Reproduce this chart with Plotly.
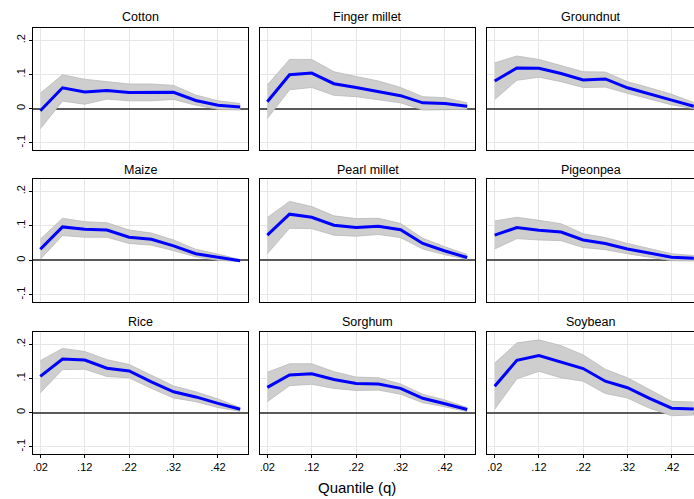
import plotly.graph_objects as go

W, H = 694, 499

quantiles = [0.02, 0.07, 0.12, 0.17, 0.22, 0.27, 0.32, 0.37, 0.42, 0.47]
crops = ["Cotton", "Finger millet", "Groundnut",
         "Maize", "Pearl millet", "Pigeonpea",
         "Rice", "Sorghum", "Soybean"]

cotton_est = [-0.006, 0.061, 0.049, 0.053, 0.047, 0.047, 0.048, 0.024, 0.010, 0.005]
cotton_hi = [0.045, 0.099, 0.086, 0.079, 0.072, 0.072, 0.068, 0.040, 0.023, 0.015]
cotton_lo = [-0.059, 0.022, 0.013, 0.028, 0.023, 0.023, 0.027, 0.010, -0.002, -0.004]

finger_est = [0.020, 0.099, 0.104, 0.073, 0.062, 0.051, 0.038, 0.017, 0.015, 0.007]
finger_hi = [0.069, 0.144, 0.144, 0.108, 0.094, 0.081, 0.062, 0.035, 0.032, 0.017]
finger_lo = [-0.029, 0.055, 0.062, 0.039, 0.035, 0.025, 0.017, -0.004, -0.004, -0.002]

groundnut_est = [0.081, 0.119, 0.118, 0.103, 0.084, 0.087, 0.061, 0.044, 0.025, 0.007]
groundnut_hi = [0.134, 0.154, 0.144, 0.127, 0.108, 0.107, 0.079, 0.061, 0.042, 0.018]
groundnut_lo = [0.027, 0.083, 0.092, 0.079, 0.062, 0.063, 0.045, 0.028, 0.011, 0.000]

maize_est = [0.032, 0.097, 0.090, 0.088, 0.067, 0.061, 0.042, 0.019, 0.009, -0.001]
maize_hi = [0.061, 0.122, 0.112, 0.109, 0.088, 0.079, 0.059, 0.032, 0.018, 0.002]
maize_lo = [0.003, 0.072, 0.067, 0.067, 0.049, 0.044, 0.028, 0.010, 0.000, -0.004]

pearl_est = [0.073, 0.134, 0.125, 0.102, 0.095, 0.099, 0.089, 0.049, 0.027, 0.008]
pearl_hi = [0.124, 0.171, 0.156, 0.129, 0.121, 0.122, 0.107, 0.064, 0.039, 0.017]
pearl_lo = [0.019, 0.093, 0.092, 0.073, 0.070, 0.075, 0.066, 0.033, 0.016, 0.003]

pigeon_est = [0.073, 0.095, 0.087, 0.082, 0.059, 0.049, 0.033, 0.021, 0.009, 0.006]
pigeon_hi = [0.114, 0.125, 0.116, 0.106, 0.077, 0.066, 0.049, 0.034, 0.019, 0.014]
pigeon_lo = [0.033, 0.063, 0.059, 0.057, 0.037, 0.031, 0.019, 0.009, -0.001, -0.002]

rice_est = [0.106, 0.157, 0.154, 0.130, 0.122, 0.090, 0.061, 0.046, 0.027, 0.010]
rice_hi = [0.152, 0.188, 0.179, 0.155, 0.141, 0.109, 0.078, 0.061, 0.040, 0.015]
rice_lo = [0.058, 0.126, 0.127, 0.106, 0.102, 0.071, 0.043, 0.032, 0.015, 0.004]

sorghum_est = [0.074, 0.110, 0.114, 0.097, 0.085, 0.084, 0.071, 0.042, 0.026, 0.009]
sorghum_hi = [0.118, 0.143, 0.143, 0.120, 0.104, 0.102, 0.084, 0.054, 0.037, 0.015]
sorghum_lo = [0.032, 0.079, 0.083, 0.071, 0.065, 0.066, 0.054, 0.029, 0.017, 0.003]

soybean_est = [0.077, 0.153, 0.167, 0.148, 0.129, 0.092, 0.073, 0.042, 0.013, 0.011]
soybean_hi = [0.145, 0.204, 0.213, 0.196, 0.169, 0.127, 0.102, 0.068, 0.033, 0.031]
soybean_lo = [0.010, 0.099, 0.121, 0.102, 0.092, 0.056, 0.043, 0.013, -0.009, -0.007]

estimates = [cotton_est, finger_est, groundnut_est, maize_est, pearl_est, pigeon_est,
             rice_est, sorghum_est, soybean_est]
uppers = [cotton_hi, finger_hi, groundnut_hi, maize_hi, pearl_hi, pigeon_hi,
          rice_hi, sorghum_hi, soybean_hi]
lowers = [cotton_lo, finger_lo, groundnut_lo, maize_lo, pearl_lo, pigeon_lo,
          rice_lo, sorghum_lo, soybean_lo]

x_tickvals = [0.02, 0.12, 0.22, 0.32, 0.42]
x_ticktext = [".02", ".12", ".22", ".32", ".42"]
y_tickvals = [-0.1, 0, 0.1, 0.2]
y_ticktext = ["-.1", "0", ".1", ".2"]

# pixel geometry of panels
col_px = [(33, 248), (260, 475), (487, 694)]
row_px = [(28, 150), (179, 302), (332, 454)]
title_y_px = [17, 170, 322]
x_ranges = [[0.00356, 0.4876], [0.00356, 0.4876], [0.0026, 0.4705]]
y_range = [-0.121, 0.236]

FONT = "Liberation Sans, Arial, sans-serif"

fig = go.Figure()
layout = {}
annotations = []

for i, crop in enumerate(crops):
    r, c = divmod(i, 3)
    n = i + 1
    xa = "x" if n == 1 else f"x{n}"
    ya = "y" if n == 1 else f"y{n}"
    fig.add_trace(go.Scatter(x=quantiles, y=uppers[i], mode="lines",
                             line=dict(color="rgb(185,185,185)", width=0.8),
                             xaxis=xa, yaxis=ya, showlegend=False, hoverinfo="skip"))
    fig.add_trace(go.Scatter(x=quantiles, y=lowers[i], mode="lines",
                             line=dict(color="rgb(185,185,185)", width=0.8),
                             fill="tonexty", fillcolor="rgb(206,206,206)",
                             xaxis=xa, yaxis=ya, showlegend=False, hoverinfo="skip"))
    fig.add_trace(go.Scatter(x=quantiles, y=estimates[i], mode="lines",
                             line=dict(color="#0000ff", width=3),
                             xaxis=xa, yaxis=ya, showlegend=False))

    x0, x1 = col_px[c]
    y0, y1 = row_px[r]
    bottom = r == 2
    left = c == 0
    layout["xaxis" if n == 1 else f"xaxis{n}"] = dict(
        domain=[x0 / W, x1 / W], anchor=ya, range=x_ranges[c],
        tickvals=x_tickvals, ticktext=x_ticktext, showticklabels=bottom,
        ticks="outside" if bottom else "", ticklen=3, tickcolor="black",
        showgrid=True, gridcolor="#e6e6e6", gridwidth=1, zeroline=False,
        showline=True, linecolor="black", linewidth=1, mirror=True,
        tickfont=dict(size=11, color="black", family=FONT),
    )
    layout["yaxis" if n == 1 else f"yaxis{n}"] = dict(
        domain=[1 - y1 / H, 1 - y0 / H], anchor=xa, range=y_range,
        tickvals=y_tickvals, ticktext=y_ticktext, showticklabels=left,
        ticks="outside" if left else "", ticklen=3, tickcolor="black",
        tickangle=-90,
        showgrid=True, gridcolor="#e6e6e6", gridwidth=1,
        zeroline=True, zerolinecolor="#5a5a5a", zerolinewidth=1.5,
        showline=True, linecolor="black", linewidth=1, mirror=True,
        tickfont=dict(size=11, color="black", family=FONT),
    )
    annotations.append(dict(text=crop, x=(x0 + x1) / 2 / W, y=1 - title_y_px[r] / H,
                            xref="paper", yref="paper", xanchor="center", yanchor="middle",
                            showarrow=False, font=dict(size=12.5, color="black", family=FONT)))

annotations.append(dict(text="Quantile (q)", x=357 / W, y=1 - 487 / H,
                        xref="paper", yref="paper", xanchor="center", yanchor="middle",
                        showarrow=False, font=dict(size=15, color="black", family=FONT)))

fig.update_layout(**layout)
fig.update_layout(width=W, height=H, margin=dict(l=0, r=0, t=0, b=0),
                  paper_bgcolor="white", plot_bgcolor="white",
                  annotations=annotations, showlegend=False,
                  font=dict(family=FONT, color="black"))

fig.write_html("out.html")
